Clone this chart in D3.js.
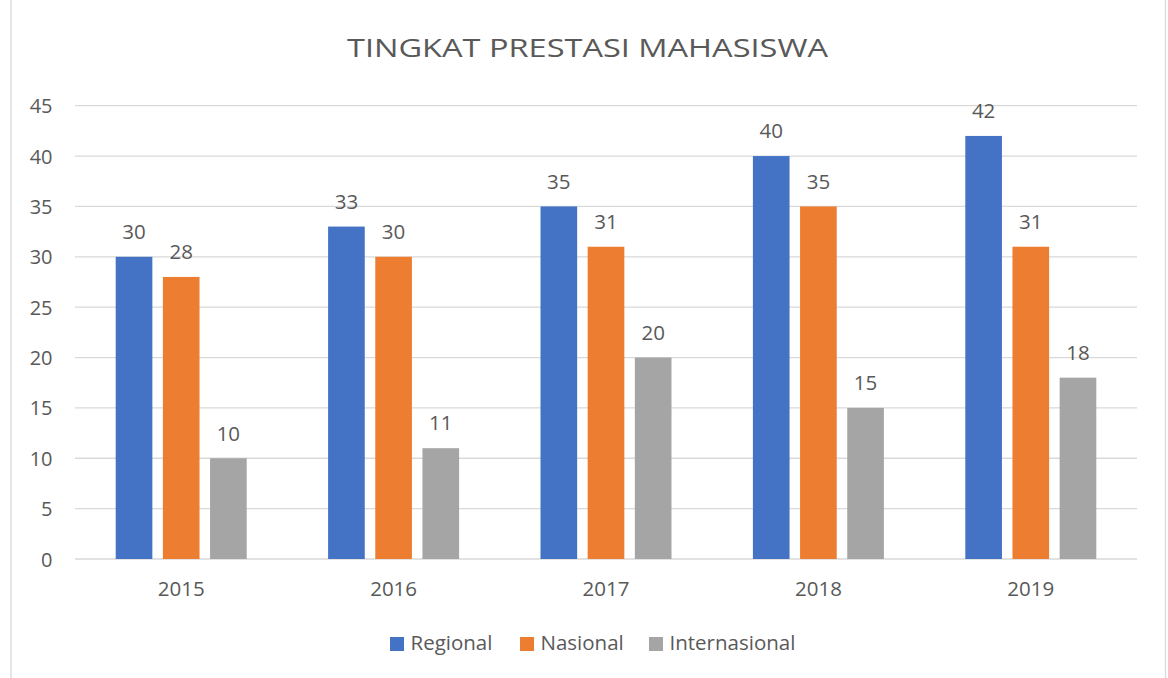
<!DOCTYPE html>
<html><head><meta charset="utf-8">
<script src="https://cdn.jsdelivr.net/npm/d3@7/dist/d3.min.js"></script>
<style>body{margin:0;background:#fff;}svg{display:block;font-family:"Open Sans",sans-serif;}</style>
</head><body>
<svg id="c" width="1168" height="678"></svg>
<script>
const title = "TINGKAT PRESTASI MAHASISWA";
const years = ["2015","2016","2017","2018","2019"];
const seriesNames = ["Regional","Nasional","Internasional"];
const regional = [30,33,35,40,42];
const nasional = [28,30,31,35,31];
const internasional = [10,11,20,15,18];
const yTicks = [0,5,10,15,20,25,30,35,40,45];
const colors = ["#4472c4","#ed7d31","#a5a5a5"];

const values = [regional, nasional, internasional];
const svg = d3.select("#c");
const txt = "#595959";

// border
svg.append("rect").attr("x",11).attr("y",-2).attr("width",1154.5).attr("height",690)
  .attr("fill","none").attr("stroke","#d9d9d9").attr("stroke-width",1.3);

const x = d3.scaleBand().domain(years).range([75,1137]);
const y = d3.scaleLinear().domain([0,45]).range([559,105.7]);
const inner = d3.scaleBand().domain(seriesNames).range([0,131]).paddingInner(0.223);

// gridlines
svg.append("g").selectAll("line").data(yTicks).join("line")
  .attr("x1",75).attr("x2",1137)
  .attr("y1",d=>y(d)).attr("y2",d=>y(d))
  .attr("stroke","#d9d9d9").attr("stroke-width",1.3);

// y axis labels
const yAxis = d3.axisLeft(y).tickValues(yTicks).tickSize(0).tickPadding(0);
const ya = svg.append("g").attr("transform","translate(52.5,0)").call(yAxis);
ya.select(".domain").remove();
ya.selectAll("text").attr("fill",txt).attr("font-size",20).attr("font-family","Open Sans").attr("dy","0.35em");

// x axis labels
const xAxis = d3.axisBottom(x).tickSize(0).tickPadding(0);
const xa = svg.append("g").attr("transform","translate(0,581)").call(xAxis);
xa.select(".domain").remove();
xa.selectAll("text").attr("fill",txt).attr("font-size",20.5).attr("font-family","Open Sans").attr("dy","0.71em");

// bars
const groups = svg.append("g").selectAll("g").data(years).join("g")
  .attr("transform",d=>`translate(${x(d)+x.bandwidth()/2-65.5},0)`);
seriesNames.forEach((s,si)=>{
  groups.append("rect")
    .attr("x",inner(s)).attr("width",inner.bandwidth())
    .attr("y",(d,i)=>y(values[si][i]))
    .attr("height",(d,i)=>y(0)-y(values[si][i]))
    .attr("fill",colors[si]);
  groups.append("text")
    .attr("x",inner(s)+inner.bandwidth()/2)
    .attr("y",(d,i)=>y(values[si][i])-17.7)
    .attr("text-anchor","middle").attr("fill",txt).attr("font-size",20.5)
    .text((d,i)=>values[si][i]);
});

// title
svg.append("text").attr("x",587.5).attr("y",56.5).attr("text-anchor","middle")
  .attr("fill",txt).attr("font-size",25)
  .attr("textLength",481).attr("lengthAdjust","spacingAndGlyphs").text(title);

// legend
const legX = [390,520,649];
const lg = svg.append("g").selectAll("g").data(seriesNames).join("g")
  .attr("transform",(d,i)=>`translate(${legX[i]},637)`);
lg.append("rect").attr("width",14).attr("height",14).attr("fill",(d,i)=>colors[i]);
lg.append("text").attr("x",20.5).attr("y",12.5).attr("fill",txt).attr("font-size",20.5).text(d=>d);
</script>
</body></html>
